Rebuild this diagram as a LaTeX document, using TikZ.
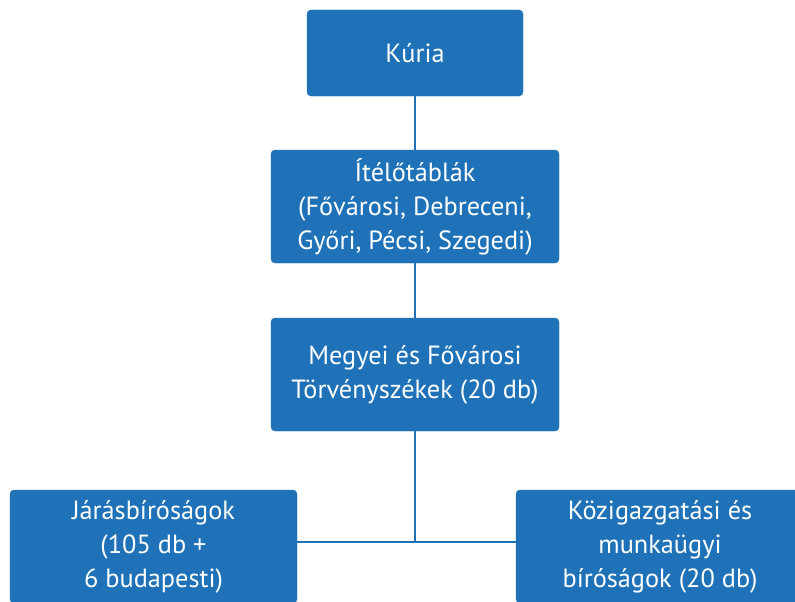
\documentclass[tikz,border=0pt]{standalone}
\usepackage{fontspec}
\setmainfont{PT Sans}
\definecolor{birosag}{HTML}{1F72B8}
\tikzset{
  szint/.style={draw=birosag,fill=birosag,text=white,rounded corners=4pt,
    align=center,inner sep=0pt,minimum width=288pt,minimum height=113pt,
    font=\fontsize{26.3}{34}\selectfont},
  vonal/.style={draw=birosag,line width=2pt}
}
\begin{document}
\begin{tikzpicture}[x=1pt,y=-1pt]
  \clip (0,0) rectangle (795,602);
  \fill[white] (0,0) rectangle (795,602);

  \node[szint,minimum width=216pt,minimum height=86pt] (kuria) at (415,53) {Kúria};
  \node[szint] (tabla) at (415,206.5) {Ítélőtáblák\\(Fővárosi, Debreceni,\\Győri, Pécsi, Szegedi)};
  \node[szint] (torveny) at (415,374.5) {Megyei és Fővárosi\\Törvényszékek (20 db)};
  \node[szint,minimum width=287pt] (jaras) at (153.5,546.5) {Járásbíróságok\\(105 db +\\6 budapesti)};
  \node[szint] (kozig) at (660,546.5) {Közigazgatási és\\munkaügyi\\bíróságok (20 db)};

  \coordinate (elag) at (415,541.5);

  \draw[vonal] (kuria) -- (tabla);
  \draw[vonal] (tabla) -- (torveny);
  \draw[vonal] (torveny) -- (elag);
  \draw[vonal] (jaras.east |- elag) -- (kozig.west |- elag);
\end{tikzpicture}
\end{document}
